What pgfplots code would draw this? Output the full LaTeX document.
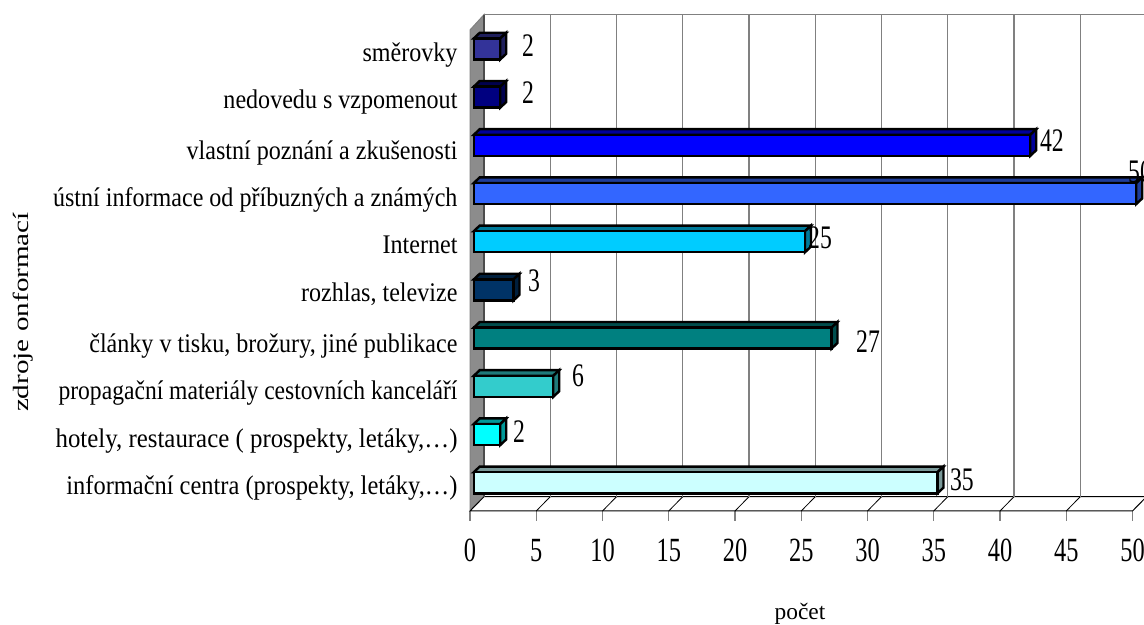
\documentclass[border=0pt]{standalone}
\usepackage{fontspec}
\usepackage{graphicx}
\usepackage{pgfplots}
\pgfplotsset{compat=1.18}
\setmainfont{Liberation Serif}
\newfontfamily\catfont[FakeStretch=0.895]{Liberation Serif}
\newfontfamily\numfont[FakeStretch=0.72]{Liberation Serif}
\newfontfamily\ylabfont[FakeStretch=1.33]{Liberation Serif}
\definecolor{c0}{HTML}{CCFFFF}
\definecolor{c1}{HTML}{00FFFF}
\definecolor{c2}{HTML}{33CCCC}
\definecolor{c3}{HTML}{008080}
\definecolor{c4}{HTML}{003366}
\definecolor{c5}{HTML}{00CCFF}
\definecolor{c6}{HTML}{3366FF}
\definecolor{c7}{HTML}{0000FF}
\definecolor{c8}{HTML}{000080}
\definecolor{c9}{HTML}{333399}
% value, category position, colour
\newcommand\barD[3]{%
  \pgfmathsetmacro\xa{0.28}%
  \pgfmathsetmacro\xb{#1+0.28}%
  \pgfmathsetmacro\xc{#1+0.28+0.453}%
  \pgfmathsetmacro\xd{0.28+0.453}%
  \pgfmathsetmacro\ya{#2-0.218}%
  \pgfmathsetmacro\yb{#2+0.218}%
  \pgfmathsetmacro\yc{#2+0.218+0.118}%
  \pgfmathsetmacro\yd{#2-0.218+0.118}%
  \edef\temp{%
  \noexpand\addplot[fill=#3!60!black,draw=black,line width=2.4bp,mark=none,forget plot] coordinates {(\xa,\yb) (\xd,\yc) (\xc,\yc) (\xb,\yb)} --cycle;
  \noexpand\addplot[fill=#3!60!black,draw=black,line width=2.4bp,mark=none,forget plot] coordinates {(\xb,\ya) (\xc,\yd) (\xc,\yc) (\xb,\yb)} --cycle;
  \noexpand\addplot[fill=#3,draw=black,line width=2.4bp,mark=none,forget plot] coordinates {(\xa,\ya) (\xb,\ya) (\xb,\yb) (\xa,\yb)} --cycle;
  }\temp
}
\begin{document}
\begin{tikzpicture}[x=1bp,y=1bp]
\path[use as bounding box,clip] (0,0) rectangle (1144,625);
\begin{axis}[
  at={(470bp,114bp)},anchor=south west,
  scale only axis,width=662.5bp,height=481bp,
  xmin=0,xmax=50,ymin=-0.585,ymax=9.394,
  clip=false,
  axis line style={draw=none},
  xtick={0,5,...,50},
  xticklabels={0,5,10,15,20,25,30,35,40,45,50},
  tick pos=lower,tick align=outside,
  x tick style={draw=gray,line width=1.3bp},
  major tick length=10bp,
  y tick style={draw=none},
  ytick={-0.218,0.770,1.759,2.741,3.793,4.795,5.763,6.745,7.803,8.772},
  yticklabels={
    {\scalebox{1.015}[1]{informační centra (prospekty, letáky,\dots)}},
    {\scalebox{1.033}[1]{hotely, restaurace ( prospekty, letáky,\dots)}},
    {\scalebox{0.98}[1]{propagační materiály cestovních kanceláří}},
    {články v tisku, brožury, jiné publikace},
    {rozhlas, televize},
    {Internet},
    {ústní informace od příbuzných a známých},
    {vlastní poznání a zkušenosti},
    {nedovedu s vzpomenout},
    {směrovky}},
  xticklabel style={font=\numfont\fontsize{34}{34}\selectfont,anchor=base,yshift=-41bp},
  yticklabel style={font=\catfont\fontsize{27}{27}\selectfont,anchor=base east,xshift=1bp,yshift=-1.5bp},
]
% side wall
\addplot[fill=black!45,draw=gray,line width=1bp,mark=none,forget plot] coordinates {(0,-0.585) (0,9.394) (1.057,9.712) (1.057,-0.288)} --cycle;
% floor
\addplot[fill=white,draw=black,line width=1bp,mark=none,forget plot] coordinates {(0,-0.585) (50,-0.585) (51.057,-0.288) (1.057,-0.288)} --cycle;
% floor diagonals
\addplot[black,line width=.8bp,mark=none,forget plot] coordinates {(5,-0.585) (6.057,-0.288)};
\addplot[black,line width=.8bp,mark=none,forget plot] coordinates {(10,-0.585) (11.057,-0.288)};
\addplot[black,line width=.8bp,mark=none,forget plot] coordinates {(15,-0.585) (16.057,-0.288)};
\addplot[black,line width=.8bp,mark=none,forget plot] coordinates {(20,-0.585) (21.057,-0.288)};
\addplot[black,line width=.8bp,mark=none,forget plot] coordinates {(25,-0.585) (26.057,-0.288)};
\addplot[black,line width=.8bp,mark=none,forget plot] coordinates {(30,-0.585) (31.057,-0.288)};
\addplot[black,line width=.8bp,mark=none,forget plot] coordinates {(35,-0.585) (36.057,-0.288)};
\addplot[black,line width=.8bp,mark=none,forget plot] coordinates {(40,-0.585) (41.057,-0.288)};
\addplot[black,line width=.8bp,mark=none,forget plot] coordinates {(45,-0.585) (46.057,-0.288)};
% back grid
\addplot[gray,line width=1.2bp,mark=none,forget plot] coordinates {(1.057,9.712) (51.057,9.712)};
\addplot[black!70,line width=1.2bp,mark=none,forget plot] coordinates {(1.057,-0.288) (1.057,9.712)};
\addplot[gray,line width=1.2bp,mark=none,forget plot] coordinates {(6.057,-0.288) (6.057,9.712)};
\addplot[gray,line width=1.2bp,mark=none,forget plot] coordinates {(11.057,-0.288) (11.057,9.712)};
\addplot[gray,line width=1.2bp,mark=none,forget plot] coordinates {(16.057,-0.288) (16.057,9.712)};
\addplot[gray,line width=1.2bp,mark=none,forget plot] coordinates {(21.057,-0.288) (21.057,9.712)};
\addplot[gray,line width=1.2bp,mark=none,forget plot] coordinates {(26.057,-0.288) (26.057,9.712)};
\addplot[gray,line width=1.2bp,mark=none,forget plot] coordinates {(31.057,-0.288) (31.057,9.712)};
\addplot[gray,line width=1.2bp,mark=none,forget plot] coordinates {(36.057,-0.288) (36.057,9.712)};
\addplot[gray,line width=1.2bp,mark=none,forget plot] coordinates {(41.057,-0.288) (41.057,9.712)};
\addplot[gray,line width=1.2bp,mark=none,forget plot] coordinates {(46.057,-0.288) (46.057,9.712)};
% bars
\barD{35}{0}{c0}
\barD{2}{1}{c1}
\barD{6}{2}{c2}
\barD{27}{3}{c3}
\barD{3}{4}{c4}
\barD{25}{5}{c5}
\barD{50}{6}{c6}
\barD{42}{7}{c7}
\barD{2}{8}{c8}
\barD{2}{9}{c9}
% value labels
\tikzset{val/.style={anchor=base,font=\numfont\fontsize{33}{33}\selectfont,inner sep=0pt}}
\node[val] at (axis cs:4.377,8.834) {2};
\node[val] at (axis cs:4.377,7.869) {2};
\node[val] at (axis cs:43.92,6.869) {42};
\node[val] at (axis cs:50.57,6.24) {50};
\node[val] at (axis cs:26.42,4.851) {25};
\node[val] at (axis cs:4.83,3.959) {3};
\node[val] at (axis cs:30.04,2.693) {27};
\node[val] at (axis cs:8.15,2.008) {6};
\node[val] at (axis cs:3.70,0.826) {2};
\node[val] at (axis cs:37.13,-0.164) {35};
\end{axis}
\node[font=\fontsize{23.5}{23.5}\selectfont] at (800,11) {počet};
\node[font=\ylabfont\fontsize{22}{22}\selectfont,rotate=90] at (23,313) {zdroje onformací};
\end{tikzpicture}
\end{document}
